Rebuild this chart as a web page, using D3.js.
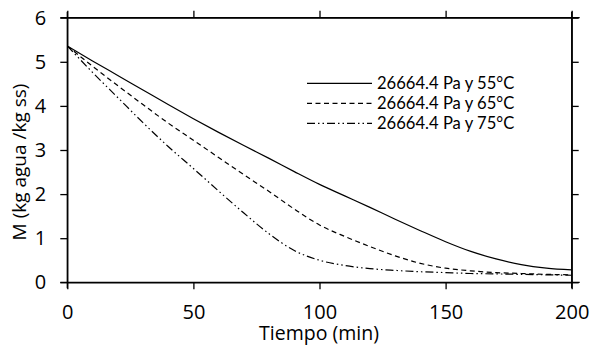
<!DOCTYPE html>
<html><head><meta charset="utf-8">
<script src="https://cdn.jsdelivr.net/npm/d3@7"></script>
<style>body{margin:0;background:#fff}svg{display:block}</style>
</head><body>
<svg id="c" width="592" height="345"></svg>
<script>
const tiempo = [0,10,20,30,40,50,60,70,80,90,100,110,120,130,140,150,160,170,180,190,200];
const m55 = [5.36,5.02,4.69,4.36,4.03,3.71,3.40,3.10,2.81,2.51,2.22,1.96,1.70,1.43,1.17,0.92,0.70,0.53,0.40,0.32,0.28];
const m65 = [5.36,4.90,4.46,4.03,3.61,3.22,2.83,2.44,2.06,1.66,1.30,1.04,0.81,0.60,0.43,0.32,0.26,0.22,0.20,0.18,0.17];
const m75 = [5.36,4.76,4.19,3.62,3.08,2.58,2.07,1.57,1.10,0.72,0.50,0.38,0.31,0.27,0.24,0.22,0.20,0.19,0.18,0.17,0.16];
const seriesNames = ["26664.4 Pa y 55°C","26664.4 Pa y 65°C","26664.4 Pa y 75°C"];
const xTicks = [0,50,100,150,200];
const yTicks = [0,1,2,3,4,5,6];
const xTitle = "Tiempo (min)";
const yTitle = "M (kg agua /kg ss)";

const series = [m55, m65, m75].map((v,i)=>({name:seriesNames[i], values:v}));
const dashes = [null, "5,3.5", "8,3,1.5,3,1.5,3"];

const svg = d3.select("#c");
const L=67.3, R=571.7, T=17.7, B=282.3;
const font = "'Open Sans', Calibri, sans-serif";
const legFont = "Lato, 'Open Sans', sans-serif";
const x = d3.scaleLinear().domain([0,200]).range([L,R]);
const y = d3.scaleLinear().domain([0,6]).range([B,T]);
const fmt = d3.format("d");

function styleAxis(g, showLabels){
  g.select(".domain").attr("stroke","#000").attr("stroke-width",1.3);
  g.selectAll(".tick line").attr("stroke","#000").attr("stroke-width",1.3);
  g.selectAll(".tick text").attr("font-family",font).attr("font-size",20).attr("fill","#000");
  if(!showLabels) g.selectAll(".tick text").remove();
}
const ax = svg.append("g").attr("transform",`translate(0,${B})`)
  .call(d3.axisBottom(x).tickValues(xTicks).tickFormat(fmt).tickSize(7).tickSizeOuter(0).tickPadding(0));
styleAxis(ax,true);
ax.selectAll(".tick text").attr("y",37).attr("dy",null);
const axT = svg.append("g").attr("transform",`translate(0,${T})`)
  .call(d3.axisTop(x).tickValues(xTicks).tickSize(7).tickSizeOuter(0));
styleAxis(axT,false);
const ay = svg.append("g").attr("transform",`translate(${L},0)`)
  .call(d3.axisLeft(y).tickValues(yTicks).tickFormat(fmt).tickSize(7).tickSizeOuter(0).tickPadding(14));
styleAxis(ay,true);
const ayR = svg.append("g").attr("transform",`translate(${R},0)`)
  .call(d3.axisRight(y).tickValues(yTicks).tickSize(7).tickSizeOuter(0));
styleAxis(ayR,false);
// extend frame lines beyond the corners like the reference
svg.append("line").attr("x1",L-7).attr("x2",R+8).attr("y1",B).attr("y2",B).attr("stroke","#000").attr("stroke-width",1.3);
svg.append("line").attr("x1",L-7).attr("x2",R+8).attr("y1",T).attr("y2",T).attr("stroke","#000").attr("stroke-width",1.3);
svg.append("line").attr("x1",R).attr("x2",R).attr("y1",T-6).attr("y2",B+6).attr("stroke","#000").attr("stroke-width",1.3);
svg.append("line").attr("x1",L).attr("x2",L).attr("y1",T-6).attr("y2",B+6).attr("stroke","#000").attr("stroke-width",1.3);

const line = d3.line().x((d,i)=>x(tiempo[i])).y(d=>y(d)).curve(d3.curveMonotoneX);
series.forEach((s,i)=>{
  svg.append("path").datum(s.values).attr("d",line).attr("fill","none")
    .attr("stroke","#000").attr("stroke-width",1.2)
    .attr("stroke-dasharray",dashes[i]);
});

// legend
const lg = svg.append("g");
series.forEach((s,i)=>{
  const yy = 83.3 + i*20;
  lg.append("line").attr("x1",307).attr("x2",372).attr("y1",yy).attr("y2",yy)
    .attr("stroke","#000").attr("stroke-width",1.2).attr("stroke-dasharray",dashes[i]);
  lg.append("text").attr("x",377).attr("y",yy+5.5)
    .attr("font-family",legFont).attr("font-size",16.6).text(s.name);
});

svg.append("text").attr("x",319).attr("y",339.5).attr("text-anchor","middle")
  .attr("font-family",font).attr("font-size",19.5).text(xTitle);
svg.append("text").attr("transform","translate(26,162) rotate(-90)").attr("text-anchor","middle")
  .attr("font-family",font).attr("font-size",19).text(yTitle);
</script>
</body></html>
